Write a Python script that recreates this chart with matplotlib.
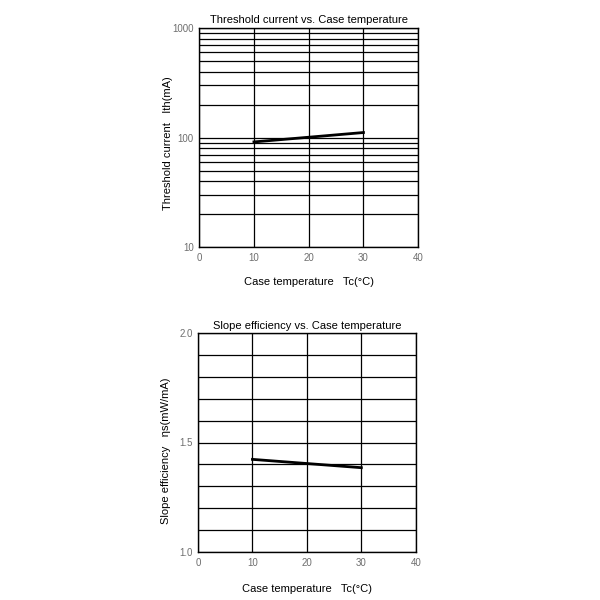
import numpy as np
import matplotlib
matplotlib.use("Agg")
import matplotlib.pyplot as plt

plt.rcParams['font.family'] = ['Liberation Sans', 'DejaVu Sans']

# data
temp = [10, 20, 30]
ith = [91.5, 101, 111.5]
slope_eff = [1.423, 1.404, 1.385]

x_ticks = [0, 10, 20, 30, 40]
ith_ticks = [10, 100, 1000]
se_ticks = [1.0, 1.5, 2.0]

fig = plt.figure(figsize=(6, 6), dpi=100)
ax1 = fig.add_axes([0.332, 0.588, 0.365, 0.365])
ax2 = fig.add_axes([0.330, 0.080, 0.363, 0.365])

grey = '#6e6e6e'

# threshold current (log)
ax1.set_yscale('log')
ax1.set_xlim(0, 40)
ax1.set_ylim(10, 1000)
ax1.set_xticks(x_ticks)
ax1.set_yticks(ith_ticks)
ax1.set_yticklabels([str(t) for t in ith_ticks])
ax1.set_yticks([v * d for d in (10, 100) for v in range(2, 10)], minor=True)
ax1.yaxis.set_minor_formatter(plt.NullFormatter())
ax1.grid(True, which='both', color='black', linewidth=0.9)
ax1.plot(temp, ith, color='black', linewidth=2)
ax1.set_title('Threshold current vs. Case temperature', fontsize=8, pad=4)
ax1.set_xlabel('Case temperature   Tc(°C)', fontsize=8, labelpad=10)
ax1.set_ylabel('Threshold current   Ith(mA)', fontsize=8)
ax1.yaxis.set_label_coords(-0.121, 0.473)

# slope efficiency
ax2.set_xlim(0, 40)
ax2.set_ylim(1.0, 2.0)
ax2.set_xticks(x_ticks)
ax2.set_yticks(se_ticks)
ax2.set_yticks(np.arange(1.1, 2.0, 0.1), minor=True)
ax2.grid(True, which='both', color='black', linewidth=0.9)
ax2.plot(temp, slope_eff, color='black', linewidth=2)
ax2.set_title('Slope efficiency vs. Case temperature', fontsize=8, pad=3)
ax2.set_xlabel('Case temperature   Tc(°C)', fontsize=8, labelpad=11.5)
ax2.set_ylabel('Slope efficiency   ηs(mW/mA)', fontsize=8)
ax2.yaxis.set_label_coords(-0.125, 0.463)
ax2.yaxis.set_major_formatter(plt.FormatStrFormatter('%.1f'))

for ax in (ax1, ax2):
    ax.tick_params(which='both', length=0, labelsize=7, labelcolor=grey, pad=4)
    for s in ax.spines.values():
        s.set_linewidth(1.0)
    ax.set_axisbelow(False)

fig.savefig('out.png', dpi=100, facecolor='white')
